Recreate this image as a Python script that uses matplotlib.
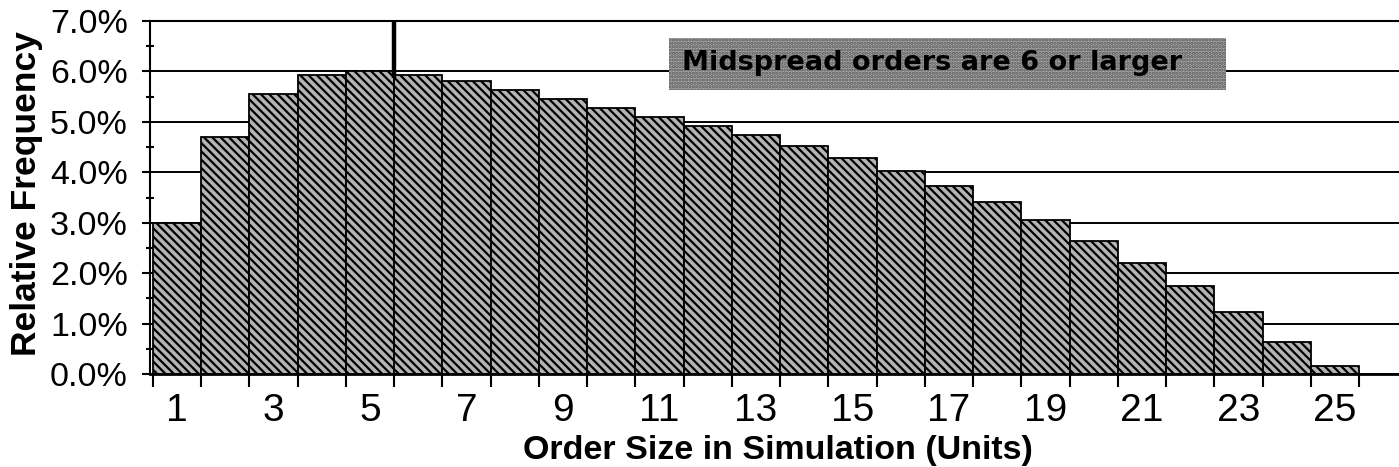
import matplotlib
matplotlib.use("Agg")
import matplotlib.pyplot as plt
from matplotlib.patches import Rectangle
import numpy as np

plt.rcParams['font.family'] = ['Liberation Sans', 'DejaVu Sans']
plt.rcParams['hatch.linewidth'] = 1.6

# ---- data ----
order_sizes = list(range(1, 26))
rel_freq = [3.00, 4.70, 5.55, 5.92, 6.01, 5.93, 5.82, 5.64, 5.46, 5.28,
            5.10, 4.91, 4.74, 4.52, 4.29, 4.02, 3.73, 3.41, 3.05, 2.64,
            2.21, 1.74, 1.22, 0.63, 0.15]
x_tick_labels = [str(v) for v in range(1, 26, 2)]
y_ticks = [0, 1, 2, 3, 4, 5, 6, 7]
y_tick_labels = ["%.1f%%" % v for v in y_ticks]
midspread_start = 6
annotation_text = "Midspread orders are 6 or larger"
x_label = "Order Size in Simulation (Units)"
y_label = "Relative Frequency"

W, H = 1399, 467
fig = plt.figure(figsize=(W / 100, H / 100), dpi=100)
ax_left, ax_base, ax_top = 150, 374, 21
ax = fig.add_axes([ax_left / W, (H - ax_base) / H, (W - ax_left) / W, (ax_base - ax_top) / H])

unit_px = 48.24
xmin = 0.5 - 3 / unit_px
xmax = xmin + (W - ax_left) / unit_px
ax.set_xlim(xmin, xmax)
ax.set_ylim(0, 7)

ax.set_axisbelow(True)
ax.yaxis.grid(True, which='major', color='black', linewidth=1.4)

ax.bar(order_sizes, rel_freq, width=1.0, color='#b4b4b4', edgecolor='black',
       hatch='\\\\\\\\', linewidth=1.3, zorder=2)

# midspread marker
ax.vlines(midspread_start - 0.5, 5.87, 7.0, color='black', linewidth=3.2, zorder=4)

# annotation box
bx0, bx1 = (669 - 153) / unit_px + 0.5, (1226 - 153) / unit_px + 0.5
by0, by1 = (ax_base - 90) / 50.4, (ax_base - 38) / 50.4
ax.add_patch(Rectangle((bx0, by0), bx1 - bx0, by1 - by0, facecolor='#aaaaaa',
                       edgecolor='#555555', hatch='.....', linewidth=0, zorder=3))
tx = (932 - 153) / unit_px + 0.5
ax.text(tx, (ax_base - 70) / 50.4, annotation_text, family=['DejaVu Sans'],
        fontweight='bold', fontsize=19.5, ha='center', va='baseline', zorder=5)

# spines
ax.spines['right'].set_visible(False)
ax.spines['left'].set_linewidth(1.5)
ax.spines['top'].set_linewidth(1.5)
ax.spines['bottom'].set_linewidth(2.0)
ax.spines['bottom'].set_zorder(5)

# x ticks: marks at bar edges, labels at odd centers
edges = [v - 0.5 for v in order_sizes] + [order_sizes[-1] + 0.5]
ax.set_xticks(edges)
ax.set_xticklabels([''] * len(edges))
ax.set_xticks(list(range(1, 26, 2)), minor=True)
ax.set_xticklabels(x_tick_labels, minor=True)
ax.tick_params(axis='x', which='major', direction='out', length=9, width=1.5)
ax.tick_params(axis='x', which='minor', length=0, pad=14, labelsize=28)

# y ticks
ax.set_yticks(y_ticks)
ax.set_yticklabels(y_tick_labels)
ax.set_yticks(np.arange(0.5, 7, 1.0), minor=True)
ax.tick_params(axis='y', which='major', direction='out', length=6, width=1.5,
               pad=10, labelsize=24.5)
ax.tick_params(axis='y', which='minor', direction='inout', length=6, width=1.5)

fig.text(27 / W, (H - 194) / H, y_label, rotation=90, ha='center', va='center',
         fontsize=25.5, fontweight='bold')
fig.text(778 / W, (H - 459) / H, x_label, ha='center', va='baseline',
         fontsize=24.5, fontweight='bold')

fig.savefig('out.png', dpi=100)
